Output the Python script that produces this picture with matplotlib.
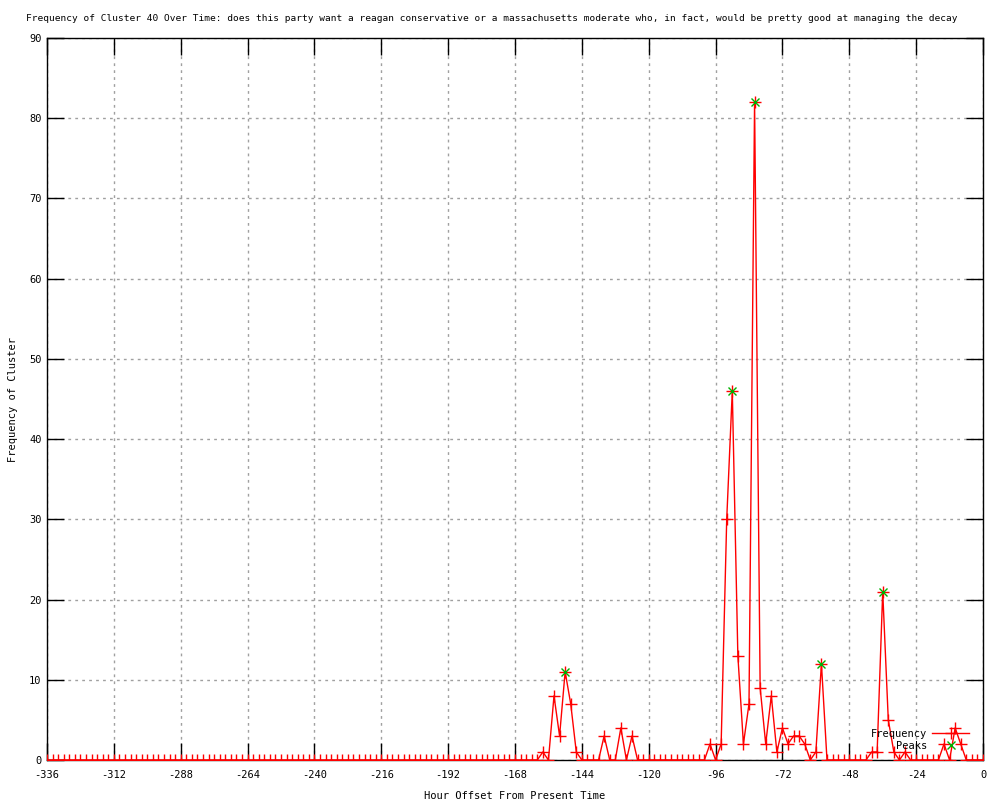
import numpy as np
import matplotlib
matplotlib.use("Agg")
import matplotlib.pyplot as plt

# --- data (one value every 2 hours) ---
hours = np.arange(-336, 1, 2)
freq = [
    0, 0, 0, 0, 0, 0, 0, 0, 0, 0, 0, 0,      # -336 .. -314
    0, 0, 0, 0, 0, 0, 0, 0, 0, 0, 0, 0,      # -312 .. -290
    0, 0, 0, 0, 0, 0, 0, 0, 0, 0, 0, 0,      # -288 .. -266
    0, 0, 0, 0, 0, 0, 0, 0, 0, 0, 0, 0,      # -264 .. -242
    0, 0, 0, 0, 0, 0, 0, 0, 0, 0, 0, 0,      # -240 .. -218
    0, 0, 0, 0, 0, 0, 0, 0, 0, 0, 0, 0,      # -216 .. -194
    0, 0, 0, 0, 0, 0, 0, 0, 0, 0, 0, 0,      # -192 .. -170
    0, 0, 0, 0, 0, 1, 0, 8, 3, 11, 7, 1,     # -168 .. -146
    0, 0, 0, 0, 3, 0, 0, 4, 0, 3, 0, 0,      # -144 .. -122
    0, 0, 0, 0, 0, 0, 0, 0, 0, 0, 0, 2,      # -120 .. -98
    0, 2, 30, 46, 13, 2, 7, 82, 9, 2, 8, 1,  # -96 .. -74
    4, 2, 3, 3, 2, 0, 1, 12, 0, 0, 0, 0,     # -72 .. -50
    0, 0, 0, 0, 1, 1, 21, 5, 1, 0, 1, 0,     # -48 .. -26
    0, 0, 0, 0, 0, 2, 0, 4, 2, 0, 0, 0,      # -24 .. -2
    0,                                       # 0
]
peak_hours = [-150, -90, -82, -58, -36]
peak_vals = [11, 46, 82, 12, 21]

title = ("Frequency of Cluster 40 Over Time: does this party want a reagan "
         "conservative or a massachusetts moderate who, in fact, would be "
         "pretty good at managing the decay")

plt.rcParams['font.family'] = ['DejaVu Sans Mono']
plt.rcParams['axes.unicode_minus'] = False

fig = plt.figure(figsize=(10, 8), dpi=100)
ax = fig.add_axes([0.047, 0.05, 0.936, 0.9025])

ax.plot(hours, freq, color='red', lw=1, marker='+', ms=8, mew=1,
        label='Frequency', zorder=3)
ax.plot(peak_hours, peak_vals, ls='none', color='#00b000', marker='x',
        ms=6, mew=1, label='Peaks', zorder=4)

ax.set_xlim(-336, 0)
ax.set_ylim(0, 90)
ax.set_xticks(np.arange(-336, 1, 24))
ax.set_yticks(np.arange(0, 91, 10))
ax.tick_params(direction='in', length=12, width=1, top=True, right=True,
               labelsize=7.5, pad=4)
ax.tick_params(axis='x', pad=7)
ax.grid(True, color='#a0a0a0', ls=(0, (2, 3)), lw=1)
for s in ax.spines.values():
    s.set_linewidth(1)

ax.set_xlabel("Hour Offset From Present Time", fontsize=7.5, labelpad=8)
ax.set_ylabel("Frequency of Cluster", fontsize=7.5, labelpad=8)
fig.text(0.026, 0.977, title, fontsize=6.8, ha='left', va='center')

ax.legend(loc='lower right', bbox_to_anchor=(0.995, 0.0), frameon=False,
          markerfirst=False, fontsize=7.5, handlelength=3.5,
          handletextpad=0.5, labelspacing=0.15, borderaxespad=0.5)

fig.savefig("out.png", dpi=100)
